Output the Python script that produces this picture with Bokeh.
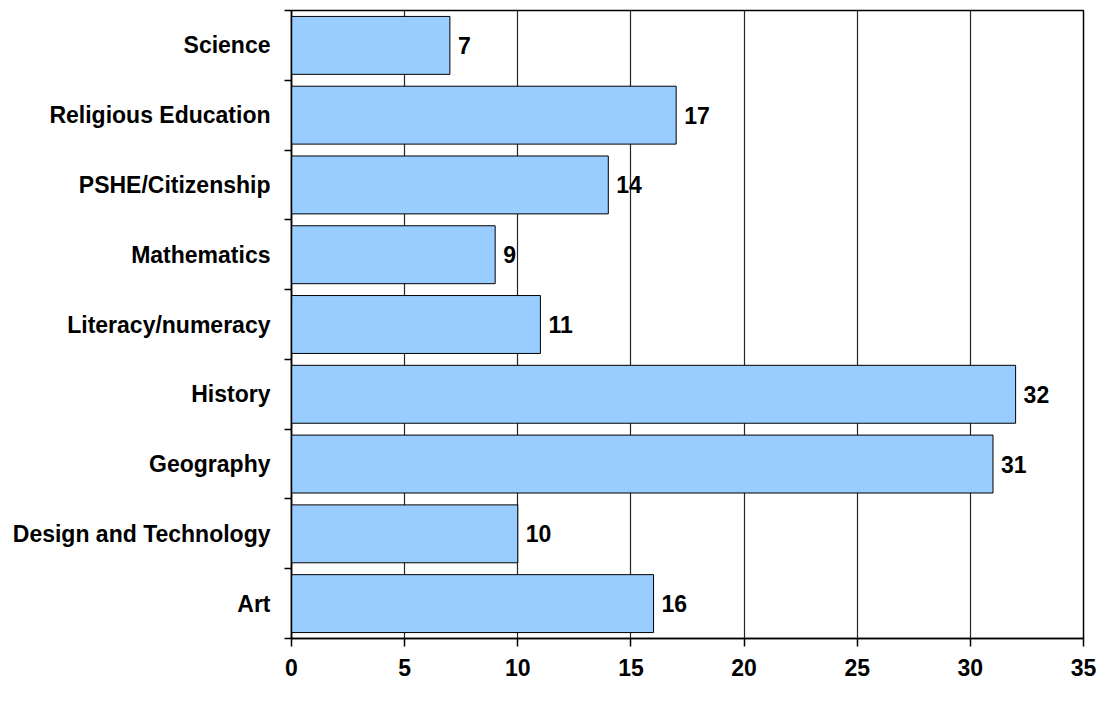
from bokeh.plotting import figure
from bokeh.models import ColumnDataSource, FixedTicker, Range1d
from bokeh.core.properties import value
from bokeh.embed import file_html
from bokeh.resources import INLINE

categories = ["Art", "Design and Technology", "Geography", "History",
              "Literacy/numeracy", "Mathematics", "PSHE/Citizenship",
              "Religious Education", "Science"]
counts = [16, 10, 31, 32, 11, 9, 14, 17, 7]
x_ticks = [0, 5, 10, 15, 20, 25, 30, 35]

FONT = "Liberation Sans"
FS = "23px"
pos = [i + 0.5 for i in range(len(categories))]
src = ColumnDataSource(dict(y=pos, v=counts, cat=categories,
                            lab=[str(c) for c in counts]))

p = figure(width=1096, height=688, output_backend="svg", toolbar_location=None,
           x_range=Range1d(0, 35), y_range=Range1d(0, len(categories)),
           min_border_left=291, min_border_right=13,
           min_border_top=10, min_border_bottom=50)
p.background_fill_color = "white"
p.border_fill_color = "white"
p.outline_line_color = "black"
p.outline_line_width = 1.5

p.hbar(y="y", right="v", left=0, height=0.83, source=src,
       fill_color="#99CCFF", line_color="black", line_width=1)
p.text(x="v", y="y", text="lab", source=src, x_offset=8,
       text_baseline="middle", text_align="left",
       text_font=value(FONT), text_font_style="bold",
       text_font_size=FS, text_color="black")

# x axis
p.xaxis.ticker = FixedTicker(ticks=x_ticks)
p.xaxis.axis_line_color = "black"
p.xaxis.axis_line_width = 1.5
p.xaxis.major_tick_line_color = "black"
p.xaxis.major_tick_line_width = 1.5
p.xaxis.major_tick_out = 8
p.xaxis.major_tick_in = 0
p.xaxis.minor_tick_line_color = None
p.xaxis.major_label_standoff = 12
p.xaxis.major_label_text_font = FONT
p.xaxis.major_label_text_font_style = "bold"
p.xaxis.major_label_text_font_size = FS
p.xaxis.major_label_text_color = "black"

# y axis: labels at category centres, ticks at boundaries
p.yaxis.ticker = FixedTicker(ticks=pos, minor_ticks=list(range(len(categories) + 1)))
p.yaxis.major_label_overrides = {pv: c for pv, c in zip(pos, categories)}
p.yaxis.axis_line_color = "black"
p.yaxis.axis_line_width = 1.5
p.yaxis.major_tick_out = 0
p.yaxis.major_tick_in = 0
p.yaxis.minor_tick_out = 7
p.yaxis.minor_tick_in = 0
p.yaxis.minor_tick_line_color = "black"
p.yaxis.minor_tick_line_width = 1.5
p.yaxis.major_label_standoff = 14
p.yaxis.major_label_text_font = FONT
p.yaxis.major_label_text_font_style = "bold"
p.yaxis.major_label_text_font_size = FS
p.yaxis.major_label_text_color = "black"

p.xgrid.ticker = FixedTicker(ticks=x_ticks)
p.xgrid.grid_line_color = "black"
p.xgrid.grid_line_width = 1.2
p.xgrid.grid_line_alpha = 0.85
p.ygrid.grid_line_color = None

open("out.html", "w").write(file_html(p, INLINE))
